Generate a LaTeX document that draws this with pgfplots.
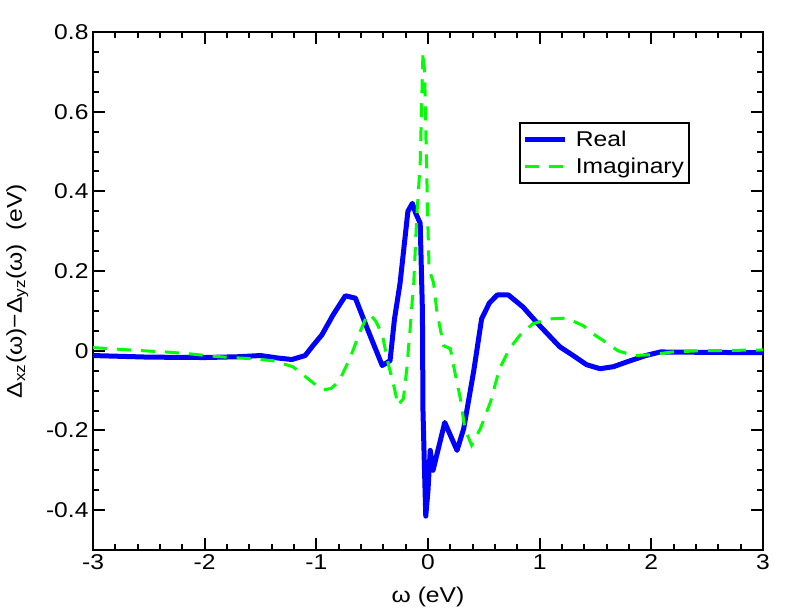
\documentclass[border=0pt]{standalone}
\usepackage{fontspec}
\setmainfont{Liberation Sans}[FakeStretch=1.15]
\usepackage{pgfplots}
\pgfplotsset{compat=1.18}

\definecolor{realblue}{RGB}{0,0,255}
\definecolor{imaggreen}{RGB}{0,255,0}

\begin{document}
\begin{tikzpicture}
  \useasboundingbox (0,0) rectangle (792bp,612bp);
  \begin{axis}[
      at={(93bp,62bp)}, anchor=south west,
      scale only axis,
      width=670bp, height=518bp,
      xmin=-3, xmax=3,
      ymin=-0.5, ymax=0.8,
      xtick={-3,-2,...,3},
      ytick={-0.4,-0.2,0,0.2,0.4,0.6,0.8},
      minor x tick num=4,
      minor y tick num=3,
      tick align=inside,
      axis line style={line width=2.5bp},
      every tick/.style={black, line width=2bp},
      major tick length=12bp,
      minor tick length=6bp,
      /pgf/number format/assume math mode=true,
      ticklabel style={font=\fontsize{21.5}{24}\selectfont},
      xticklabel style={yshift=-1bp},
      yticklabel style={xshift=-1bp},
      xlabel={ω (eV)},
      ylabel={Δ\textsubscript{xz}(ω)−Δ\textsubscript{yz}(ω)~~(eV)},
      label style={font=\fontsize{21.5}{24}\selectfont},
      xlabel style={yshift=-10bp},
      ylabel style={yshift=11bp},
      legend style={at={(0.636,0.826)}, anchor=north west,
        draw=black, line width=1.5bp,
        font=\fontsize{21.5}{24}\selectfont,
        inner xsep=3bp, inner ysep=6bp, row sep=6bp, column sep=6bp},
      legend cell align=left,
      legend image code/.code={\draw[#1] (0bp,0bp) -- (40bp,0bp);},
    ]
    % Real part
    \addplot[realblue, line width=5bp, line join=round] coordinates {
      (-3,-0.012) (-2.5,-0.016) (-2,-0.017) (-1.7,-0.015) (-1.5,-0.012)
      (-1.35,-0.018) (-1.22,-0.022) (-1.1,-0.012) (-1.03,0.013) (-0.95,0.04)
      (-0.85,0.09) (-0.74,0.138) (-0.65,0.132) (-0.55,0.06) (-0.41,-0.037)
      (-0.34,-0.025) (-0.3,0.08) (-0.25,0.17) (-0.18,0.35) (-0.14,0.37)
      (-0.11,0.345) (-0.07,0.32) (-0.05,0.10) (-0.045,-0.15) (-0.035,-0.26)
      (-0.02,-0.415) (0.0,-0.35) (0.02,-0.25) (0.045,-0.30) (0.08,-0.26)
      (0.15,-0.18) (0.26,-0.25) (0.32,-0.195) (0.41,-0.05) (0.48,0.08)
      (0.55,0.12) (0.62,0.14) (0.72,0.14) (0.85,0.11) (1.0,0.063)
      (1.18,0.01) (1.3,-0.012) (1.42,-0.035) (1.54,-0.045) (1.66,-0.04)
      (1.78,-0.028) (1.95,-0.012) (2.08,-0.003) (2.5,-0.004) (3,-0.005)
    };
    \addlegendentry{Real}
    % Imaginary part
    \addplot[imaggreen, line width=3bp, dash pattern=on 14bp off 10bp] coordinates {
      (-3,0.008) (-2.73,0.003) (-2.55,0) (-2.35,-0.003) (-2.16,-0.007)
      (-1.95,-0.013) (-1.77,-0.017) (-1.57,-0.02) (-1.39,-0.025) (-1.21,-0.04)
      (-1.12,-0.06) (-1.0,-0.087) (-0.94,-0.098) (-0.87,-0.095) (-0.8,-0.078)
      (-0.7,-0.02) (-0.61,0.047) (-0.55,0.085) (-0.52,0.092) (-0.47,0.075)
      (-0.41,0.042) (-0.36,-0.028) (-0.3,-0.095) (-0.27,-0.137) (-0.22,-0.12)
      (-0.19,-0.045) (-0.18,-0.01) (-0.16,0.055) (-0.14,0.13) (-0.13,0.155)
      (-0.1,0.34) (-0.07,0.47) (-0.055,0.64) (-0.045,0.75) (-0.03,0.70)
      (-0.02,0.555) (-0.01,0.43) (0,0.305) (0.01,0.205) (0.05,0.17)
      (0.08,0.097) (0.14,0.013) (0.2,0.005) (0.24,-0.053) (0.29,-0.12)
      (0.33,-0.195) (0.39,-0.237) (0.47,-0.195) (0.56,-0.128) (0.64,-0.045)
      (0.73,0.005) (0.82,0.038) (0.94,0.068) (1.09,0.08) (1.24,0.082)
      (1.39,0.063) (1.48,0.042) (1.6,0.02) (1.7,0) (1.84,-0.012)
      (1.99,-0.01) (2.19,-0.003) (2.44,0) (3,0.002)
    };
    \addlegendentry{Imaginary}
  \end{axis}
\end{tikzpicture}
\end{document}
